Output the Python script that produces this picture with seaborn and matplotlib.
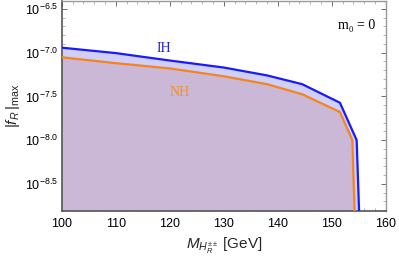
import numpy as np
import pandas as pd
import seaborn as sns
import matplotlib
matplotlib.use("Agg")
import matplotlib.pyplot as plt
from matplotlib.ticker import FixedLocator, FixedFormatter

# Data (log10 of |f_R|_max)
mass_IH = [100, 110, 120, 130, 138, 144.5, 151.5, 154.6, 155.15]
log10_f_IH = [-6.943, -7.005, -7.09, -7.17, -7.26, -7.36, -7.572, -8.0, -9.0]
mass_NH = [100, 110, 120, 130, 138, 144.5, 151.5, 153.8, 154.3]
log10_f_NH = [-7.053, -7.12, -7.18, -7.27, -7.36, -7.475, -7.678, -8.0, -9.0]

ytick_exps = [-8.5, -8.0, -7.5, -7.0, -6.5]
ytick_labels = [r"$10^{-8.5}$", r"$10^{-8.0}$", r"$10^{-7.5}$", r"$10^{-7.0}$", r"$10^{-6.5}$"]
xticks = [100, 110, 120, 130, 140, 150, 160]

df_IH = pd.DataFrame({"M": mass_IH, "f": 10.0 ** np.array(log10_f_IH), "h": "IH"})
df_NH = pd.DataFrame({"M": mass_NH, "f": 10.0 ** np.array(log10_f_NH), "h": "NH"})

sns.set_style("ticks")
plt.rcParams["font.family"] = ["Liberation Sans", "DejaVu Sans"]
plt.rcParams["mathtext.fontset"] = "custom"
plt.rcParams["mathtext.rm"] = "Liberation Sans"
plt.rcParams["mathtext.it"] = "Liberation Sans:italic"

fig = plt.figure(figsize=(3.99, 2.58), dpi=100)
ax = fig.add_axes([0.155, 0.182, 0.812, 0.814])

ymin, ymax = 10 ** -8.81, 10 ** -6.41
blue = "#1a1aff"
orange = "#f5841f"

ax.fill_between(df_IH["M"], df_IH["f"], 1e-12, color="#cfcff7", lw=0, zorder=1)
ax.fill_between(df_NH["M"], df_NH["f"], 1e-12, color="#cbb7d6", lw=0, zorder=2)
sns.lineplot(data=df_IH, x="M", y="f", color=blue, lw=1.6, ax=ax, sort=False, zorder=4)
sns.lineplot(data=df_NH, x="M", y="f", color=orange, lw=1.6, ax=ax, sort=False, zorder=3)

ax.set_yscale("log")
ax.set_xlim(100, 160)
ax.set_ylim(ymin, ymax)
ax.yaxis.set_major_locator(FixedLocator([10.0 ** e for e in ytick_exps]))
ax.yaxis.set_major_formatter(FixedFormatter(ytick_labels))
minor_y = [10.0 ** e for e in np.arange(-8.8, -6.4, 0.1)]
ax.yaxis.set_minor_locator(FixedLocator(minor_y))
ax.yaxis.set_minor_formatter(FixedFormatter([""] * len(minor_y)))
ax.set_xticks(xticks)
ax.set_xticks(np.arange(100, 161, 2), minor=True)

ax.tick_params(axis="both", which="major", direction="in", length=3.5, width=0.6,
               labelsize=9, colors="#555555", labelcolor="black", top=True, right=True)
ax.tick_params(axis="both", which="minor", direction="in", length=2, width=0.5,
               colors="#999999", top=True, right=True)
ax.tick_params(axis="y", which="major", pad=3)
ax.tick_params(axis="x", which="major", pad=5)

for s in ["left", "bottom"]:
    ax.spines[s].set_color("#555555")
    ax.spines[s].set_linewidth(1.2)
for s in ["right", "top"]:
    ax.spines[s].set_color("#999999")
    ax.spines[s].set_linewidth(1.0)
    ax.spines[s].set_visible(True)

ax.set_xlabel(r"$M_{H_R^{\pm\pm}}$ [GeV]", fontsize=11, labelpad=4)
ax.set_ylabel(r"$|f_R\,|_{\rm max}$", fontsize=11, labelpad=2)

ax.text(118.8, 10 ** -6.95, "IH", color="#2020e0", fontsize=10,
        family="Liberation Serif", ha="center", va="center")
ax.text(121.8, 10 ** -7.455, "NH", color="#f0902a", fontsize=10,
        family="Liberation Serif", ha="center", va="center")
ax.text(154.5, 10 ** -6.69, "m\u2080 = 0", color="black", fontsize=10,
        family=["Liberation Serif", "DejaVu Serif"], ha="center", va="center")

fig.savefig("out.png", dpi=100)
